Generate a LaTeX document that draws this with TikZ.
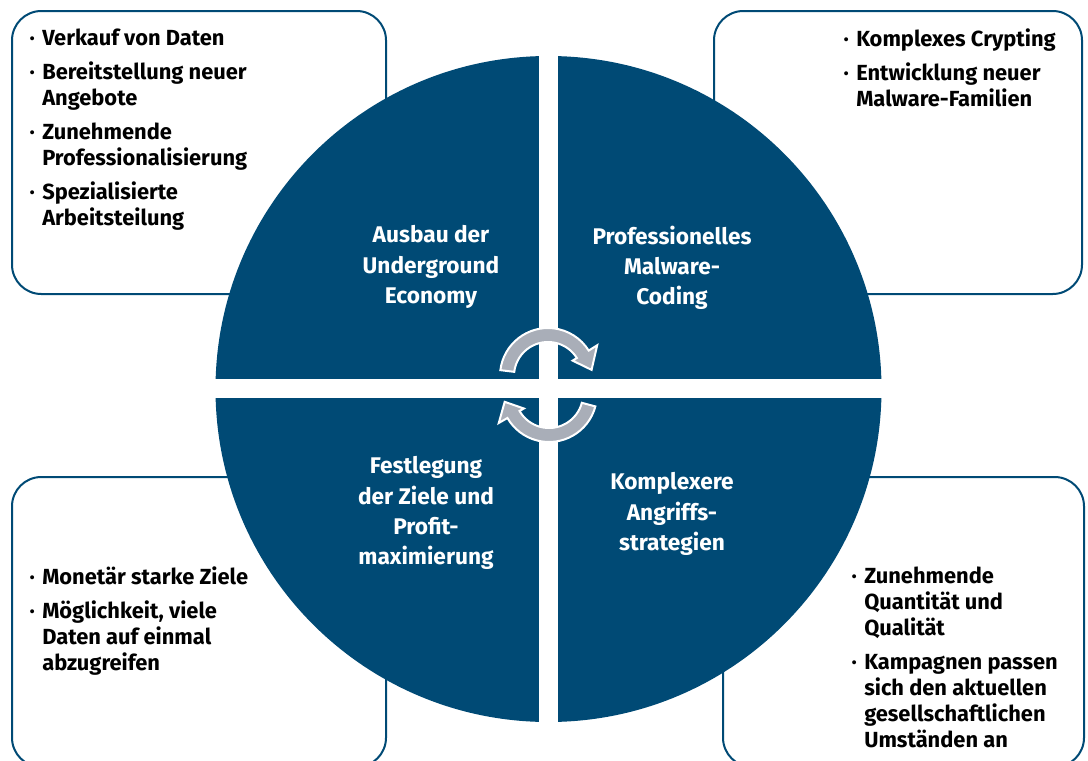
\documentclass[tikz,border=0pt]{standalone}
\usepackage{fontspec}
\setmainfont{Fira Sans}
\definecolor{bsiblau}{RGB}{0,74,117}
\definecolor{pfeilgrau}{RGB}{169,174,184}
\newcommand{\bpunkt}{\leavevmode\llap{·\hspace{5.5pt}}}

\begin{document}
\begin{tikzpicture}[x=0.75pt,y=-0.75pt,
    kasten/.style={draw=bsiblau,line width=1.5pt,fill=white,rounded corners=22pt},
    punkte/.style={anchor=north west,inner sep=0pt,align=left,text=black,
      font=\fontsize{16.4}{19.5}\selectfont\bfseries},
    feldtext/.style={align=center,inner sep=0pt,text=white,
      font=\fontsize{17}{22.6}\selectfont\bfseries},
    kreispfeil/.style={fill=pfeilgrau,draw=white,line width=1.5pt}]
      \useasboundingbox (0,0) rectangle (1088,760);
      % Kaesten hinter dem Kreis
      \draw[kasten] (12,11) rectangle (386,294);
      \draw[kasten] (714,11) rectangle (1082,294);
      \draw[kasten] (12,477) rectangle (386,767);
      \draw[kasten] (723,477) rectangle (1084,767);
      % Kreis mit weissem Kreuz
      \fill[bsiblau] (548.5,389) circle (333);
      \begin{scope}
        \clip (548.5,389) circle (334);
        \fill[white] (539,50) rectangle (558,730);
        \fill[white] (210,379) rectangle (890,398);
      \end{scope}
      % Kreislauf-Pfeile
      \begin{scope}[shift={(548,376)}]
        \draw[kreispfeil] (187:34) -- (187:48) arc[start angle=187,end angle=328,radius=48]
          -- (328:58) -- (352:44) -- (328:29) -- (328:34)
          arc[start angle=328,end angle=187,radius=34] -- cycle;
      \end{scope}
      \begin{scope}[shift={(549,394)}]
        \draw[kreispfeil] (15:34) -- (15:48) arc[start angle=15,end angle=150,radius=48]
          -- (150:58) -- (170:45) -- (150:29) -- (150:34)
          arc[start angle=150,end angle=15,radius=34] -- cycle;
      \end{scope}
      % Texte im Kreis
      \node[feldtext] (ausbau) at (431,267) {Ausbau der\\Underground\\Economy};
      \node[feldtext] (coding) at (672,268) {Professionelles\\Malware-\\Coding};
      \node[feldtext] (ziele) at (426,513) {Festlegung\\der Ziele und\\Profit-\\maximierung};
      \node[feldtext] (angriff) at (672,514) {Komplexere\\Angriffs-\\strategien};
      % Stichpunkte
      \node[punkte] (oben-links) at (42,29) {\bpunkt Verkauf von Daten\\[6pt]
        \bpunkt Bereitstellung neuer\\Angebote\\[6pt]
        \bpunkt Zunehmende\\Professionalisierung\\[6pt]
        \bpunkt Spezialisierte\\Arbeitsteilung};
      \node[punkte] (oben-rechts) at (856,28) {\bpunkt Komplexes Crypting\\[6pt]
        \bpunkt Entwicklung neuer\\Malware-Familien};
      \node[punkte] (unten-links) at (42,566) {\bpunkt Monetär starke Ziele\\[6pt]
        \bpunkt Möglichkeit, viele\\Daten auf einmal\\abzugreifen};
      \node[punkte] (unten-rechts) at (864,567) {\bpunkt Zunehmende\\Quantität und\\Qualität\\[6pt]
        \bpunkt Kampagnen passen\\sich den aktuellen\\gesellschaftlichen\\Umständen an};
    \end{tikzpicture}
\end{document}
